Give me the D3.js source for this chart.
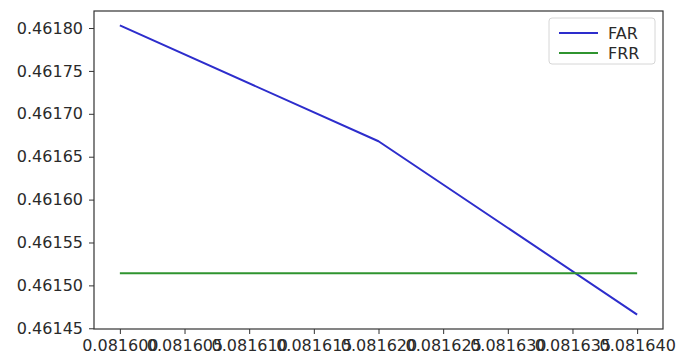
<!DOCTYPE html>
<html>
<head>
<meta charset="utf-8">
<script src="https://cdn.jsdelivr.net/npm/d3@7"></script>
<style>
  html, body { margin: 0; padding: 0; background: #fff; }
  svg { display: block; font-family: "DejaVu Sans", sans-serif; }
</style>
</head>
<body>
<svg id="chart" width="678" height="356"></svg>
<script>
// Threshold values along the x axis
const thresholds = [0.081600, 0.081620, 0.081640];
// False acceptance rate at each threshold
const farValues = [0.461803, 0.461668, 0.461466];
// False rejection rate at each threshold
const frrValues = [0.461514, 0.461514, 0.461514];
// Tick positions
const xTicks = [0.081600, 0.081605, 0.081610, 0.081615, 0.081620, 0.081625, 0.081630, 0.081635, 0.081640];
const yTicks = [0.46145, 0.46150, 0.46155, 0.46160, 0.46165, 0.46170, 0.46175, 0.46180];

const series = [
  { name: "FAR", values: farValues, color: "#2d2dcc" },
  { name: "FRR", values: frrValues, color: "#2f942f" }
];

const svg = d3.select("#chart");
const box = { left: 94, right: 663, top: 11, bottom: 329 };

// 5% padding around the data, like the plotting defaults
function padded(ext) {
  const p = (ext[1] - ext[0]) * 0.05;
  return [ext[0] - p, ext[1] + p];
}
const xDomain = padded(d3.extent(thresholds));
const yDomain = padded(d3.extent(farValues.concat(frrValues)));

const x = d3.scaleLinear().domain(xDomain).range([box.left, box.right]);
const y = d3.scaleLinear().domain(yDomain).range([box.bottom, box.top]);

const textColor = "#2a2a2a";
const fontSize = 16;

// x axis
const xAxis = svg.append("g")
  .attr("transform", `translate(0,${box.bottom})`)
  .call(d3.axisBottom(x).tickValues(xTicks).tickFormat(d3.format(".6f")).tickSizeOuter(0).tickSize(5).tickPadding(6));
xAxis.select(".domain").remove();
xAxis.selectAll("line").attr("stroke", "#333").attr("stroke-width", 1);
xAxis.selectAll("text").attr("fill", textColor).style("font-size", fontSize + "px").attr("font-family", "DejaVu Sans");

// y axis
const yAxis = svg.append("g")
  .attr("transform", `translate(${box.left},0)`)
  .call(d3.axisLeft(y).tickValues(yTicks).tickFormat(d3.format(".5f")).tickSizeOuter(0).tickSize(5).tickPadding(6));
yAxis.select(".domain").remove();
yAxis.selectAll("line").attr("stroke", "#333").attr("stroke-width", 1);
yAxis.selectAll("text").attr("fill", textColor).style("font-size", fontSize + "px").attr("font-family", "DejaVu Sans");

// data lines
const line = d3.line().x((d, i) => x(thresholds[i])).y(d => y(d));
series.forEach(s => {
  svg.append("path")
    .datum(s.values)
    .attr("fill", "none")
    .attr("stroke", s.color)
    .attr("stroke-width", 2)
    .attr("stroke-linejoin", "round")
    .attr("d", line);
});

// frame
svg.append("rect")
  .attr("x", box.left).attr("y", box.top)
  .attr("width", box.right - box.left).attr("height", box.bottom - box.top)
  .attr("fill", "none").attr("stroke", "#333").attr("stroke-width", 1.2);

// legend
const legend = svg.append("g").attr("transform", "translate(549,18)");
legend.append("rect")
  .attr("width", 106).attr("height", 46).attr("rx", 3)
  .attr("fill", "#fff").attr("fill-opacity", 0.8)
  .attr("stroke", "#d6d6d6").attr("stroke-width", 1);
series.forEach((s, i) => {
  const cy = 15 + i * 20;
  legend.append("line")
    .attr("x1", 10).attr("x2", 49).attr("y1", cy).attr("y2", cy)
    .attr("stroke", s.color).attr("stroke-width", 2);
  legend.append("text")
    .attr("x", 59).attr("y", cy).attr("dy", "0.36em")
    .attr("fill", textColor).style("font-size", fontSize + "px")
    .text(s.name);
});
</script>
</body>
</html>
